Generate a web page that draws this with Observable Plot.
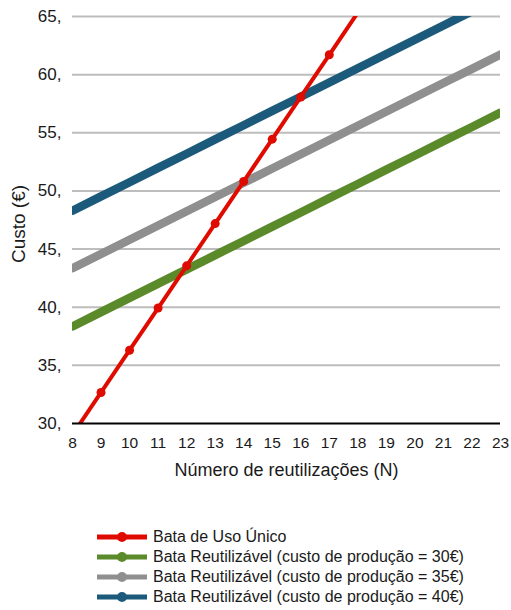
<!DOCTYPE html>
<html>
<head>
<meta charset="utf-8">
<script src="https://cdn.jsdelivr.net/npm/d3@7"></script>
<script src="https://cdn.jsdelivr.net/npm/@observablehq/plot@0.6"></script>
<style>
  body { margin: 0; background: #fff; font-family: "Liberation Sans", Arial, sans-serif; }
  #chart svg { display: block; }
  #legend { position: relative; height: 120px; }
  .row { position: absolute; left: 97px; height: 20px; display: flex; align-items: center; font-size: 16px; color: #1a1a1a; white-space: nowrap; }
  .row svg { margin-right: 6px; }
</style>
</head>
<body>
<div id="chart"></div>
<div id="legend"></div>
<script>
// Number of reuses (N)
const reuses = [8, 9, 10, 11, 12, 13, 14, 15, 16, 17, 18, 19, 20, 21, 22, 23];

// Cost (€) per series
const singleUse   = [29.04, 32.67, 36.30, 39.93, 43.56, 47.19, 50.82, 54.45, 58.08, 61.71, 65.34, 68.97, 72.60, 76.23, 79.86, 83.49];
const reusable30  = [38.35, 39.58, 40.80, 42.03, 43.25, 44.48, 45.70, 46.93, 48.15, 49.38, 50.60, 51.83, 53.05, 54.28, 55.50, 56.73];
const reusable35  = [43.35, 44.58, 45.80, 47.03, 48.25, 49.48, 50.70, 51.93, 53.15, 54.38, 55.60, 56.83, 58.05, 59.28, 60.50, 61.73];
const reusable40  = [48.30, 49.53, 50.75, 51.98, 53.20, 54.43, 55.65, 56.88, 58.10, 59.33, 60.55, 61.78, 63.00, 64.23, 65.45, 66.68];

const seriesNames = [
  "Bata de Uso Único",
  "Bata Reutilizável (custo de produção = 30€)",
  "Bata Reutilizável (custo de produção = 35€)",
  "Bata Reutilizável (custo de produção = 40€)"
];
const seriesColors = ["#e00b00", "#5a8a2a", "#8f8f8f", "#1b5a7a"];
const yTicks = [30, 35, 40, 45, 50, 55, 60, 65];
const xTitle = "Número de reutilizações (N)";
const yTitle = "Custo (€)";

const toRows = (values, name) => reuses.map((n, i) => ({n, cost: values[i], name}));
const rowsSingle = toRows(singleUse, seriesNames[0]);
const rows30 = toRows(reusable30, seriesNames[1]);
const rows35 = toRows(reusable35, seriesNames[2]);
const rows40 = toRows(reusable40, seriesNames[3]);

const heavy = {x: "n", y: "cost", strokeWidth: 8.5, strokeLinecap: "round", strokeLinejoin: "round", clip: true};
const ink = "#1a1a1a";

const chart = Plot.plot({
  width: 511,
  height: 490,
  marginLeft: 72,
  marginRight: 11,
  marginTop: 16,
  marginBottom: 67,
  style: {fontFamily: "'Liberation Sans', Arial, sans-serif", fontSize: "15px", color: ink},
  x: {domain: [8, 23], axis: null},
  y: {domain: [30, 65], axis: null},
  marks: [
    Plot.gridY(yTicks.filter(t => t > 30), {stroke: "#bdbdbd", strokeWidth: 2, strokeOpacity: 1}),
    // tick labels, positioned through the x and y scales
    Plot.text(yTicks, {y: d => d, text: d => d + ",", frameAnchor: "left", textAnchor: "end", dx: -11, fontSize: 17, fill: ink}),
    Plot.text(reuses, {x: d => d, text: d => String(d), frameAnchor: "bottom", lineAnchor: "middle", dy: 20, fontSize: 15.5, fill: ink}),
    Plot.text([xTitle], {frameAnchor: "bottom", lineAnchor: "middle", dy: 47, fontSize: 18, fill: ink}),
    Plot.text([yTitle], {frameAnchor: "left", textAnchor: "middle", lineAnchor: "middle", dx: -54, dy: 4, rotate: -90, fontSize: 19, fill: ink}),
    Plot.line(rows30, {...heavy, stroke: seriesColors[1]}),
    Plot.line(rows35, {...heavy, stroke: seriesColors[2]}),
    Plot.line(rows40, {...heavy, stroke: seriesColors[3]}),
    Plot.line(rowsSingle, {x: "n", y: "cost", stroke: seriesColors[0], strokeWidth: 4, clip: true}),
    Plot.dot(rowsSingle.filter(d => d.cost >= 30 && d.cost <= 65), {x: "n", y: "cost", r: 4.5, fill: seriesColors[0], stroke: "none"}),
    Plot.ruleY([30], {stroke: "#000", strokeWidth: 2})
  ]
});
document.getElementById("chart").appendChild(chart);

// Legend below the plot
const legend = document.getElementById("legend");
seriesNames.forEach((name, i) => {
  const row = document.createElement("div");
  row.className = "row";
  row.style.top = (37 + i * 20) + "px";
  row.innerHTML =
    `<svg width="50" height="12"><line x1="0" x2="50" y1="6" y2="6" stroke="${seriesColors[i]}" stroke-width="5"/>` +
    `<circle cx="25" cy="6" r="5" fill="${seriesColors[i]}"/></svg><span>${name}</span>`;
  legend.appendChild(row);
});
</script>
</body>
</html>
